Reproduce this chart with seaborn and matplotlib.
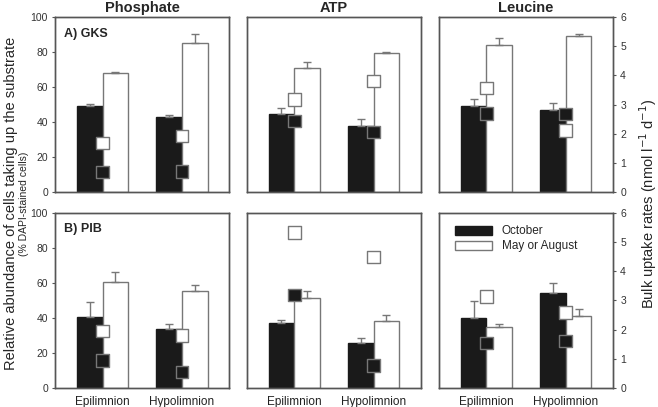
import pandas as pd
import seaborn as sns
import matplotlib
matplotlib.use('Agg')
from matplotlib import pyplot as plt
from matplotlib.patches import Patch

sns.set_style("ticks")
plt.rcParams['font.family'] = ['Liberation Sans', 'DejaVu Sans']

substrates = ["Phosphate", "ATP", "Leucine"]
sites = ["GKS", "PIB"]
site_labels = ["A) GKS", "B) PIB"]
layers = ["Epilimnion", "Hypolimnion"]
seasons = ["October", "May or August"]

# % DAPI-stained cells, [substrate][layer]
pct_gks_oct = [[49.1, 43.0], [44.9, 37.9], [49.1, 46.8]]
err_gks_oct = [[1.0, 0.8], [2.9, 3.8], [4.1, 4.1]]
pct_gks_may = [[67.9, 85.1], [70.7, 79.2], [83.9, 89.3]]
err_gks_may = [[0.9, 5.1], [3.5, 0.7], [4.4, 0.8]]
pct_pib_oct = [[40.7, 33.5], [37.1, 25.6], [39.8, 54.3]]
err_pib_oct = [[8.6, 2.8], [1.9, 2.7], [9.9, 5.5]]
pct_pib_may = [[60.8, 55.4], [51.2, 38.2], [34.8, 41.1]]
err_pib_may = [[5.7, 3.7], [4.2, 3.5], [1.9, 4.2]]

# bulk uptake rates (nmol l-1 d-1), [substrate][layer]
rate_gks_oct = [[0.69, 0.70], [2.44, 2.06], [2.69, 2.67]]
rate_gks_may = [[1.69, 1.92], [3.18, 3.81], [3.56, 2.11]]
rate_pib_oct = [[0.94, 0.55], [3.18, 0.77], [1.55, 1.61]]
rate_pib_may = [[1.95, 1.80], [5.33, 4.50], [3.14, 2.59]]

tables = {
    ("GKS", "October"): (pct_gks_oct, err_gks_oct, rate_gks_oct),
    ("GKS", "May or August"): (pct_gks_may, err_gks_may, rate_gks_may),
    ("PIB", "October"): (pct_pib_oct, err_pib_oct, rate_pib_oct),
    ("PIB", "May or August"): (pct_pib_may, err_pib_may, rate_pib_may),
}

rows = []
for (site, season), (pct, err, rate) in tables.items():
    for i, sub in enumerate(substrates):
        for j, layer in enumerate(layers):
            rows.append(dict(site=site, season=season, substrate=sub, layer=layer,
                             layer_code=j, pct=pct[i][j], err=err[i][j], rate=rate[i][j]))
df = pd.DataFrame(rows)

fill = {"October": "#1a1a1a", "May or August": "white"}
edge = {"October": "#1a1a1a", "May or August": "#777777"}
grey = "#777777"

fig = plt.figure(figsize=(6.58, 4.07), dpi=100)
lefts = [0.0836, 0.375, 0.667]
bottoms = [0.528, 0.0467]
w, h = 0.265, 0.43

for r, site in enumerate(sites):
    for c, sub in enumerate(substrates):
        ax = fig.add_axes([lefts[c], bottoms[r], w, h])
        tmp = df.loc[(df["site"] == site) & (df["substrate"] == sub)]
        sns.barplot(data=tmp, x="layer", y="pct", hue="season", order=layers,
                    hue_order=seasons, palette=fill, width=0.65, errorbar=None,
                    legend=False, linewidth=1, ax=ax)
        for k, season in enumerate(seasons):
            errs = tmp.loc[tmp["season"] == season].set_index("layer").loc[layers, "err"]
            for bar, e in zip(ax.containers[k], errs):
                bar.set_edgecolor(edge[season])
                xc = bar.get_x() + bar.get_width() / 2
                ax.errorbar(xc, bar.get_height(), yerr=[[0], [e]], fmt="none",
                            ecolor=grey, elinewidth=1, capsize=2.8, capthick=1, zorder=1)
        ax.set_xlim(-0.6, 1.6)
        ax.set_ylim(0, 100)
        ax.set_xlabel("")
        ax.set_ylabel("")

        ax2 = ax.twinx()
        sns.scatterplot(data=tmp, x="layer_code", y="rate", hue="season",
                        hue_order=seasons, palette=fill, marker="s", s=80,
                        edgecolor=grey, linewidth=1, legend=False, ax=ax2, zorder=5)
        ax2.set_ylim(0, 6)
        ax2.set_xlim(-0.6, 1.6)
        ax2.set_xlabel("")
        ax2.set_ylabel("")

        for a in (ax, ax2):
            for s in a.spines.values():
                s.set_color("#555555")
                s.set_linewidth(1)
            a.tick_params(axis="y", length=2.5, pad=2.5, color="#555555",
                          labelcolor="#333333", labelsize=7.5)
        ax.tick_params(axis="x", length=0, labelsize=8.5, colors="#222222", pad=6)

        if c == 0:
            ax.set_yticks([0, 20, 40, 60, 80, 100])
        else:
            ax.set_yticks([])
        if c == 2:
            ax2.set_yticks([0, 1, 2, 3, 4, 5, 6])
        else:
            ax2.set_yticks([])
        if r == 0:
            ax.tick_params(axis="x", labelbottom=False)
            ax.set_title(sub, fontsize=10.5, fontweight="bold", pad=4)
        if c == 0:
            ax.text(0.05, 0.94, site_labels[r], transform=ax.transAxes, fontsize=9,
                    fontweight="bold", va="top", ha="left")
        if r == 1 and c == 2:
            handles = [Patch(facecolor=fill[s], edgecolor=edge[s], linewidth=1) for s in seasons]
            ax.legend(handles, seasons, loc="upper left", bbox_to_anchor=(0.05, 0.97),
                      frameon=False, fontsize=8.5, handlelength=3.2, handleheight=0.8,
                      labelspacing=0.25, borderaxespad=0.2)

fig.text(0.016, 0.5, "Relative abundance of cells taking up the substrate",
         rotation=90, ha="center", va="center", fontsize=10.5)
fig.text(0.036, 0.5, "(% DAPI-stained cells)", rotation=90, ha="center",
         va="center", fontsize=7.5)
fig.text(0.985, 0.5, "Bulk uptake rates (nmol l$^{-1}$ d$^{-1}$)", rotation=90,
         ha="center", va="center", fontsize=10.5)

plt.savefig("out.png", dpi=100)
